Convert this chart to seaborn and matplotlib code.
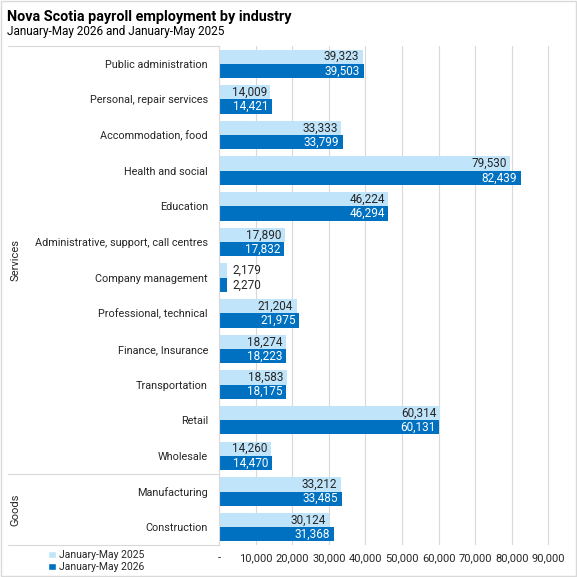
import pandas as pd
import seaborn as sns
import matplotlib.pyplot as plt
from matplotlib.lines import Line2D
from matplotlib.patches import Rectangle, Patch

# Data
industries = [
    "Public administration", "Personal, repair services",
    "Accommodation, food", "Health and social", "Education",
    "Administrative, support, call centres", "Company management",
    "Professional, technical", "Finance, Insurance", "Transportation",
    "Retail", "Wholesale", "Manufacturing", "Construction",
]
jan_may_2025 = [39323, 14009, 33333, 79530, 46224, 17890, 2179,
                21204, 18274, 18583, 60314, 14260, 33212, 30124]
jan_may_2026 = [39503, 14421, 33799, 82439, 46294, 17832, 2270,
                21975, 18223, 18175, 60131, 14470, 33485, 31368]
groups = ["Services", "Goods"]
group_sizes = [12, 2]
series_names = ["January-May 2025", "January-May 2026"]
x_ticks = [0, 10000, 20000, 30000, 40000, 50000, 60000, 70000, 80000, 90000]
x_tick_labels = ["-", "10,000", "20,000", "30,000", "40,000", "50,000",
                 "60,000", "70,000", "80,000", "90,000"]

light_blue = "#C0E4FA"
dark_blue = "#0070C0"
grid_grey = "#D9D9D9"
text_col = "#262626"

sns.set_theme(style="white")
plt.rcParams['font.family'] = ['Roboto', 'DejaVu Sans']

df = pd.DataFrame({
    "Industry": industries * 2,
    "Employment": jan_may_2025 + jan_may_2026,
    "Period": [series_names[0]] * len(industries)
    + [series_names[1]] * len(industries),
})

fig = plt.figure(figsize=(5.77, 5.77), dpi=100)
ax = fig.add_axes([0.3796, 0.0555, 0.6090, 0.8648])

sns.barplot(data=df, y="Industry", x="Employment", hue="Period",
            hue_order=series_names, palette=[light_blue, dark_blue],
            order=industries, orient="h", width=0.8, gap=0,
            saturation=1, linewidth=0, errorbar=None, ax=ax,
            legend=False, zorder=2)

ax.set_xlim(0, 96000)
ax.set_xticks(x_ticks)
ax.set_xticklabels(x_tick_labels)
ax.set_xlabel("")
ax.set_ylabel("")
ax.grid(axis="x", color=grid_grey, linewidth=0.8, zorder=0)
ax.grid(axis="y", visible=False)
for side in ["top", "right", "bottom"]:
    ax.spines[side].set_visible(False)
ax.spines["left"].set_color(grid_grey)
ax.spines["left"].set_linewidth(0.8)
ax.tick_params(axis="x", length=0, pad=6, labelsize=8, labelcolor=text_col)
ax.tick_params(axis="y", length=0, pad=8, labelsize=7.8, labelcolor=text_col)

# Value labels: inside end, or outside when the bar is too short
text_colours = [text_col, "white"]
for container, colour in zip(ax.containers, text_colours):
    for bar in container:
        value = bar.get_width()
        y_mid = bar.get_y() + bar.get_height() / 2
        label = f"{value:,.0f}"
        if value < 8000:
            ax.annotate(label, (value, y_mid), xytext=(4, 0),
                        textcoords="offset points", ha="left", va="center",
                        fontsize=8.5, color=text_col)
        else:
            ax.annotate(label, (value, y_mid), xytext=(-2.5, 0),
                        textcoords="offset points", ha="right", va="center",
                        fontsize=8.5, color=colour)

# Multi-level category axis: group lines and labels
ytrans = ax.get_yaxis_transform()
bounds = [-0.5]
for size in group_sizes:
    bounds.append(bounds[-1] + size)
for b in bounds:
    ax.add_line(Line2D([-0.600, 0], [b, b], transform=ytrans,
                       color=grid_grey, linewidth=0.8, clip_on=False))
for name, lo, hi in zip(groups, bounds[:-1], bounds[1:]):
    ax.text(-0.58, (lo + hi) / 2, name, transform=ytrans, rotation=90,
            ha="center", va="center", fontsize=8, color=text_col)

# Titles
fig.text(0.012, 0.970, "Nova Scotia payroll employment by industry",
         fontsize=10.4, fontweight="bold", color="black", va="center")
fig.text(0.012, 0.946, "January-May 2026 and January-May 2025",
         fontsize=8.5, color="black", va="center")

# Legend
handles = [Patch(facecolor=light_blue), Patch(facecolor=dark_blue)]
fig.legend(handles, series_names, loc="center left",
           bbox_to_anchor=(0.075, 0.028), frameon=False, fontsize=7.5,
           handlelength=0.7, handleheight=0.7, handletextpad=0.3,
           labelspacing=0.2, borderpad=0, labelcolor=text_col)

# Outer chart border
fig.patches.append(Rectangle((0.002, 0.002), 0.996, 0.996,
                             transform=fig.transFigure, fill=False,
                             edgecolor=grid_grey, linewidth=1))

fig.savefig("out.png", dpi=100)
